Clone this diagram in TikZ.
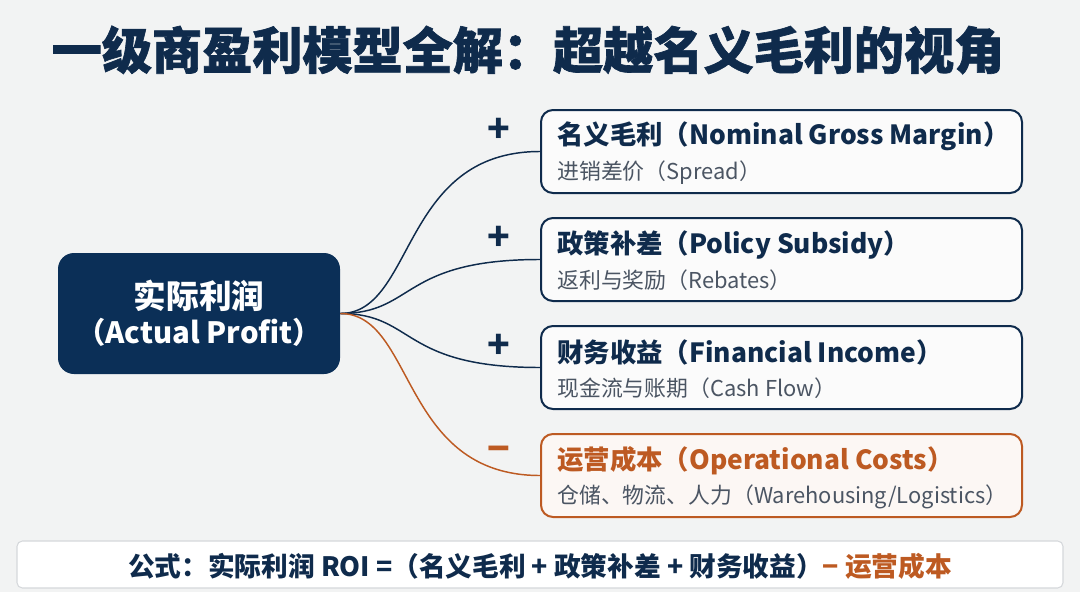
\documentclass[tikz,border=0pt]{standalone}
\usepackage{fontspec}
\setmainfont{Noto Sans CJK SC}
\newfontfamily\heavyfont{Noto Sans CJK SC}[BoldFeatures={FakeBold=1.3}]
\usepackage{tikz}
\usetikzlibrary{calc}
\definecolor{navy}{HTML}{0F2B4C}
\definecolor{boxnavy}{HTML}{0B2F57}
\definecolor{costorange}{HTML}{BD5A22}
\definecolor{subgray}{HTML}{4B5563}
\definecolor{bggray}{HTML}{F2F3F3}
\definecolor{linegray}{HTML}{D5D8DB}

\begin{document}
\begin{tikzpicture}[
  x=0.75pt, y=-0.75pt,
  every node/.style={inner sep=0pt},
  itembox/.style={draw=navy, line width=1.5pt, rounded corners=9pt, fill=white!70!bggray,
    minimum width=481*0.75pt, minimum height=83*0.75pt},
  costbox/.style={itembox, draw=costorange, fill=costorange!5!white},
  headtxt/.style={anchor=west, font=\bfseries\fontsize{19.8}{22}\selectfont, text=navy},
  subtxt/.style={anchor=west, font=\fontsize{16.4}{19}\selectfont, text=subgray},
  sign/.style={font=\bfseries\fontsize{28}{30}\selectfont, text=navy},
  link/.style={draw=navy, line width=1.1pt}
]
  % canvas
  \fill[bggray] (0,0) rectangle (1080,592);
  \useasboundingbox (0,0) rectangle (1080,592);

  \node[font=\heavyfont\bfseries\fontsize{37.6}{42}\selectfont, text=navy] (title) at (528,50)
    {一级商盈利模型全解：超越名义毛利的视角};

  % root
  \node[fill=boxnavy, rounded corners=12pt, minimum width=282*0.75pt, minimum height=121*0.75pt,
    align=center, text=white, font=\bfseries] (ctr) at (199,313.5)
    {\fontsize{24.5}{28}\selectfont 实际利润\\[4pt]\fontsize{22}{28}\selectfont（Actual Profit）};

  % branches
  \node[itembox] (b1) at (781.5,151.5) {};
  \node[itembox] (b2) at (781.5,259.5) {};
  \node[itembox] (b3) at (781.5,367.5) {};
  \node[costbox] (b4) at (781.5,475.5) {};

  \node[headtxt] (h1) at ($(b1.west)+(17,-15)$) {名义毛利（Nominal Gross Margin）};
  \node[subtxt]  (s1) at ($(b1.west)+(17,21)$) {进销差价（Spread）};
  \node[headtxt] (h2) at ($(b2.west)+(17,-15)$) {政策补差（Policy Subsidy）};
  \node[subtxt]  (s2) at ($(b2.west)+(17,21)$) {返利与奖励（Rebates）};
  \node[headtxt] (h3) at ($(b3.west)+(17,-15)$) {财务收益（Financial Income）};
  \node[subtxt]  (s3) at ($(b3.west)+(17,21)$) {现金流与账期（Cash Flow）};
  \node[headtxt, text=costorange] (h4) at ($(b4.west)+(17,-15)$) {运营成本（Operational Costs）};
  \node[subtxt]  (s4) at ($(b4.west)+(17,21)$) {仓储、物流、人力（Warehousing/Logistics）};

  \node[sign] (p1) at ($(b1.west)+(-41,-21)$) {+};
  \node[sign] (p2) at ($(b2.west)+(-41,-21)$) {+};
  \node[sign] (p3) at ($(b3.west)+(-41,-21)$) {+};
  \node[sign, text=costorange] (p4) at ($(b4.west)+(-41,-21)$) {−};

  \draw[link] (ctr.east) .. controls +(75,0) and +(-140,0) .. (b1.west);
  \draw[link] (ctr.east) .. controls +(75,0) and +(-140,0) .. (b2.west);
  \draw[link] (ctr.east) .. controls +(75,0) and +(-140,0) .. (b3.west);
  \draw[link, draw=costorange] (ctr.east) .. controls +(75,0) and +(-140,0) .. (b4.west);

  % formula
  \node[draw=linegray, line width=0.8pt, fill=white, rounded corners=4pt,
    minimum width=1046*0.75pt, minimum height=47*0.75pt] (fbox) at (540,564.5) {};
  \node[font=\bfseries\fontsize{20}{22}\selectfont, text=navy] (ftxt) at (540,566)
    {公式：实际利润 ROI =（名义毛利 + 政策补差 + 财务收益）\textcolor{costorange}{− 运营成本}};
\end{tikzpicture}
\end{document}
